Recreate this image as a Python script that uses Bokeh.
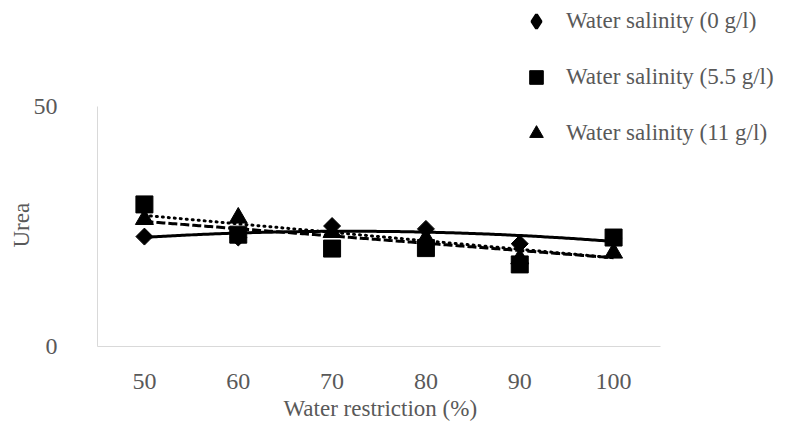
import numpy as np
from bokeh.plotting import figure
from bokeh.models import Range1d, FixedTicker, Legend, LegendItem, Title
from bokeh.embed import file_html
from bokeh.resources import INLINE

# ---- data ----
restriction = [50, 60, 70, 80, 90, 100]
sal_0 = [22.9, 22.7, 25.1, 24.5, 21.4, 22.6]
sal_55 = [29.6, 23.3, 20.4, 20.5, 17.1, 22.7]
sal_11 = [26.5, 26.8, 23.8, 22.5, 18.3, 19.5]
x_ticks = [50, 60, 70, 80, 90, 100]
y_ticks = [0, 50]
legend_labels = ["Water salinity (0 g/l)", "Water salinity (5.5 g/l)", "Water salinity (11 g/l)"]
x_title = "Water restriction (%)"
y_title = "Urea"

FONT = "Liberation Serif"
GREY = "#595959"

# frame spans from x=97 to the right edge and from the top edge to y=346;
# axis bounds keep the visible axis lines to the data area (45..105, 0..50)
X_LO, X_HI = 45, 105
Y_LO, Y_HI = 0, 50
frame_w, frame_h = 812 - 97, 346
x_end = X_LO + (X_HI - X_LO) * frame_w / 563.0
y_end = Y_LO + (Y_HI - Y_LO) * frame_h / 240.0

p = figure(width=812, height=435, output_backend="svg", toolbar_location=None,
           x_range=Range1d(X_LO, x_end), y_range=Range1d(Y_LO, y_end),
           min_border_left=97, min_border_right=0, min_border_top=0, min_border_bottom=89)
p.outline_line_color = None
p.xgrid.visible = False
p.ygrid.visible = False
p.background_fill_color = "white"
p.border_fill_color = "white"

for ax in (p.xaxis[0], p.yaxis[0]):
    ax.axis_line_color = "#d9d9d9"
    ax.axis_line_width = 1
    ax.major_tick_line_color = None
    ax.minor_tick_line_color = None
    ax.major_tick_out = 0
    ax.major_tick_in = 0
    ax.major_label_text_font = FONT
    ax.major_label_text_font_size = "24px"
    ax.major_label_text_color = GREY

p.xaxis.bounds = (X_LO, X_HI)
p.yaxis.bounds = (Y_LO, Y_HI)
p.xaxis.ticker = FixedTicker(ticks=x_ticks)
p.yaxis.ticker = FixedTicker(ticks=y_ticks)
p.xaxis.major_label_standoff = 27
p.yaxis.major_label_standoff = 40

# axis titles placed under / beside the data area (not the wider frame)
p.add_layout(Title(text=x_title, align="left", offset=186, standoff=4,
                   text_font=FONT, text_font_size="23px", text_font_style="normal",
                   text_color=GREY), "below")
p.add_layout(Title(text=y_title, align="left", offset=99, standoff=-6,
                   text_font=FONT, text_font_size="23px", text_font_style="normal",
                   text_color=GREY), "left")

# ---- trend lines computed from the data ----
xs = np.linspace(min(restriction), max(restriction), 200)
fit0 = np.polyval(np.polyfit(restriction, sal_0, 2), xs)
fit55 = np.polyval(np.polyfit(restriction, sal_55, 1), xs)
fit11 = np.polyval(np.polyfit(restriction, sal_11, 1), xs)

p.line(xs, fit0, line_color="black", line_width=3)
p.line(xs, fit55, line_color="black", line_width=3, line_dash="9 3")
p.line(xs, fit11, line_color="black", line_width=3, line_dash="1 5", line_cap="round")

# ---- markers ----
# diamond key for the legend (hidden under the rotated squares below)
r0_key = p.scatter(restriction, sal_0, marker="diamond", size=11,
                   fill_color="black", line_color="black", line_width=3)
r0 = p.scatter(restriction, sal_0, marker="square", angle=np.pi / 4, size=12,
               fill_color="black", line_color="black")
r11 = p.scatter(restriction, sal_11, marker="triangle", size=18,
                fill_color="black", line_color="black")
r55 = p.scatter(restriction, sal_55, marker="square", size=17,
                fill_color="black", line_color="black")

legend = Legend(items=[LegendItem(label=legend_labels[0], renderers=[r0_key]),
                       LegendItem(label=legend_labels[1], renderers=[r55]),
                       LegendItem(label=legend_labels[2], renderers=[r11])],
                location=(422, 196))
legend.label_text_font = FONT
legend.label_text_font_size = "23px"
legend.label_text_color = GREY
legend.glyph_width = 34
legend.glyph_height = 34
legend.label_height = 34
legend.spacing = 22
legend.label_standoff = 13
legend.padding = 0
legend.margin = 0
legend.border_line_color = None
legend.background_fill_alpha = 0
p.add_layout(legend, "center")

open("out.html", "w").write(file_html(p, INLINE))
